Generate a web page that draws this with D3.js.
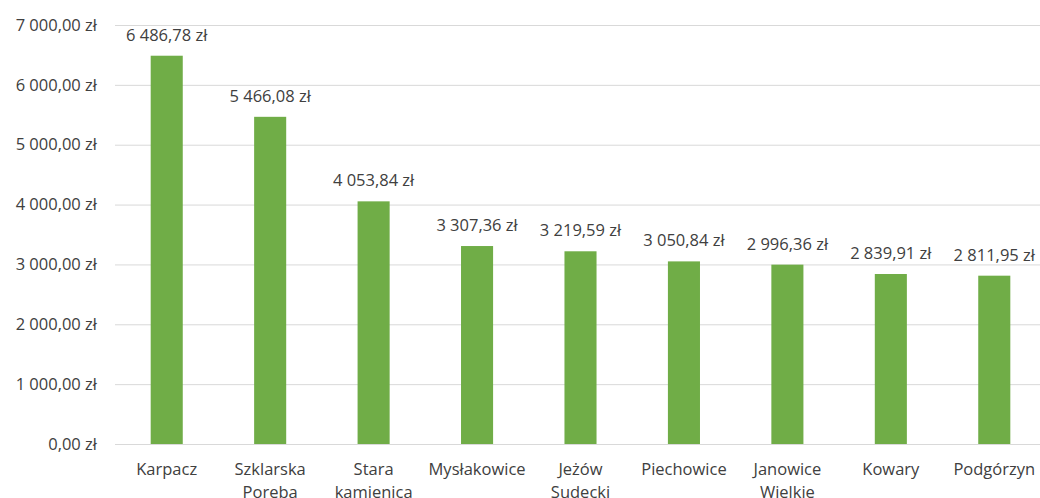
<!DOCTYPE html>
<html>
<head>
<meta charset="utf-8">
<script src="https://cdn.jsdelivr.net/npm/d3@7"></script>
<style>
  body { margin: 0; background: #fff; }
  text { font-family: "Open Sans", sans-serif; fill: #404040; }
</style>
</head>
<body>
<svg id="wykres"></svg>
<script>
// dane
const miejscowosci = ["Karpacz", "Szklarska Poreba", "Stara kamienica", "Mysłakowice", "Jeżów Sudecki",
    "Piechowice", "Janowice Wielkie", "Kowary", "Podgórzyn"];
const kwoty = [6486.78, 5466.08, 4053.84, 3307.36, 3219.59, 3050.84, 2996.36, 2839.91, 2811.95];
const podzialkaY = [0, 1000, 2000, 3000, 4000, 5000, 6000, 7000];

const WIDTH = 1040;
const HEIGHT = 498;
const margins = { top: 25, bottom: 54, left: 115, right: -6 };
const FONT = 16.5;

const svg = d3.select("#wykres")
    .attr("width", WIDTH)
    .attr("height", HEIGHT);

// format polski: spacja jako separator tysięcy, przecinek dziesiętny
const pl = d3.formatLocale({ decimal: ",", thousands: "\u00a0", grouping: [3], currency: ["", " zł"] });
const zl = v => pl.format(",.2f")(v).replace(/\u00a0/g, " ") + " zł";

const x = d3.scaleBand()
    .domain(miejscowosci)
    .range([margins.left, WIDTH - margins.right])
    .paddingInner(0.69)
    .paddingOuter(0.345);

const y = d3.scaleLinear()
    .domain([0, 7000])
    .range([HEIGHT - margins.bottom, margins.top]);

// linie siatki i etykiety osi Y
const osY = svg.append("g")
    .attr("transform", `translate(${margins.left},0)`)
    .call(d3.axisLeft(y)
        .tickValues(podzialkaY)
        .tickSize(-(WIDTH - margins.left - margins.right))
        .tickPadding(18)
        .tickFormat(zl));
osY.select(".domain").remove();
osY.selectAll(".tick line").attr("stroke", "#d9d9d9").attr("stroke-width", 1);
osY.selectAll(".tick text")
    .attr("font-size", FONT)
    .attr("fill", "#404040")
    .attr("font-family", "Open Sans, sans-serif");

// słupki
svg.append("g").selectAll("rect")
    .data(kwoty)
    .join("rect")
    .attr("x", (d, i) => x(miejscowosci[i]))
    .attr("y", d => y(d))
    .attr("width", x.bandwidth())
    .attr("height", d => y(0) - y(d))
    .attr("fill", "#70ad47");

// etykiety wartości
svg.append("g").selectAll("text")
    .data(kwoty)
    .join("text")
    .attr("x", (d, i) => x(miejscowosci[i]) + x.bandwidth() / 2)
    .attr("y", d => y(d) - 15)
    .attr("text-anchor", "middle")
    .attr("font-size", FONT)
    .text(d => zl(d));

// etykiety kategorii (łamane po spacji)
const kat = svg.append("g").selectAll("text")
    .data(miejscowosci)
    .join("text")
    .attr("x", d => x(d) + x.bandwidth() / 2)
    .attr("y", y(0) + 31)
    .attr("text-anchor", "middle")
    .attr("font-size", FONT);
kat.each(function (d) {
    const t = d3.select(this);
    d.split(" ").forEach((slowo, k) => {
        t.append("tspan")
            .attr("x", x(d) + x.bandwidth() / 2)
            .attr("dy", k === 0 ? 0 : 23)
            .text(slowo);
    });
});
</script>
</body>
</html>
